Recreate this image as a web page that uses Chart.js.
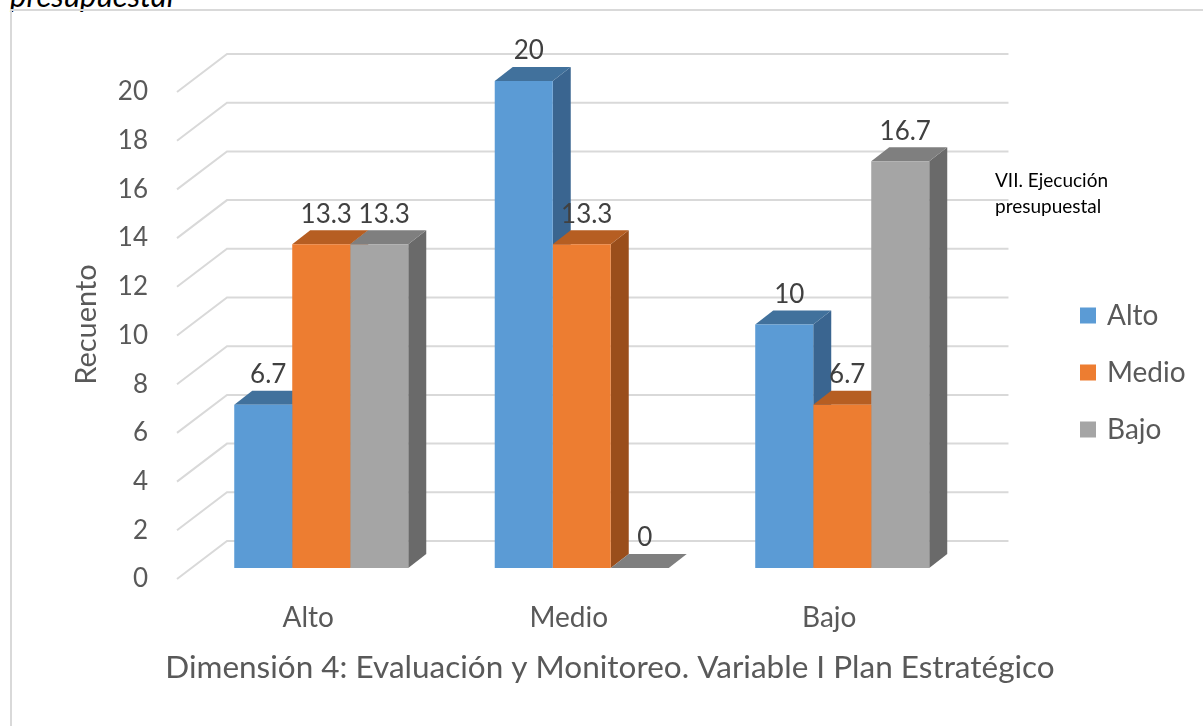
<!DOCTYPE html>
<html>
<head>
<meta charset="utf-8">
<script src="https://cdn.jsdelivr.net/npm/chart.js@4.4.1/dist/chart.umd.min.js"></script>
<style>
  html, body { margin: 0; padding: 0; background: #ffffff; }
  #page { position: relative; width: 1203px; height: 726px; overflow: hidden; background: #ffffff; }
  #frame { position: absolute; left: 10px; top: 9px; right: -10px; bottom: -10px;
           border-left: 2px solid #d9d9d9; border-top: 2px solid #d9d9d9; }
  #caption { position: absolute; left: 10px; top: -20px; font: italic 31px/31px Lato, "Open Sans", sans-serif;
             color: #000000; white-space: nowrap; }
  canvas { position: absolute; left: 0; top: 0; }
</style>
</head>
<body>
<div id="page">
  <div id="caption">presupuestal</div>
  <div id="frame"></div>
  <canvas id="chart" width="1203" height="726"></canvas>
</div>
<script>
// ---- data ----
const categories = ['Alto', 'Medio', 'Bajo'];
const seriesNames = ['Alto', 'Medio', 'Bajo'];
const serieAlto = [6.7, 20, 10];
const serieMedio = [13.3, 13.3, 6.7];
const serieBajo = [13.3, 0, 16.7];
const yTicks = [0, 2, 4, 6, 8, 10, 12, 14, 16, 18, 20];
const chartTitle = 'Dimensión 4: Evaluación y Monitoreo. Variable I Plan Estratégico';
const axisTitle = 'Recuento';
const legendTitle = ['VII. Ejecución', 'presupuestal'];

// ---- styling ----
const FONT = 'Lato, "Open Sans", sans-serif';
const palette = {
  front: ['#5B9BD5', '#ED7D31', '#A5A5A5'],
  top:   ['#41719C', '#B65E22', '#7F7F7F'],
  side:  ['#3A6590', '#9A4E1B', '#6A6A6A']
};
const BAR_DEPTH = { dx: 18, dy: -14 };    // top/side face offset of every column
const FLOOR_FRONT = { dx: -14, dy: 11 };  // front edge of the floor/left wall
const BACK_WALL = { dx: 36, dy: -27 };    // back wall plane

const seriesValues = [serieAlto, serieMedio, serieBajo];
const datasets = seriesNames.map((name, i) => ({
  label: name,
  data: seriesValues[i].map((v, k) => ({ x: k, y: v })),
  backgroundColor: palette.front[i],
  borderWidth: 0
}));

function fillPoly(ctx, pts) {
  ctx.beginPath();
  ctx.moveTo(pts[0][0], pts[0][1]);
  for (let k = 1; k < pts.length; k++) ctx.lineTo(pts[k][0], pts[k][1]);
  ctx.closePath();
  ctx.fill();
}

// Walls, gridlines and the 3D faces of the columns
const columns3d = {
  id: 'columns3d',
  beforeDatasetsDraw(chart) {
    const { ctx, scales: { x, y } } = chart;
    const left = x.getPixelForValue(-0.5);
    const right = x.getPixelForValue(categories.length - 0.5);
    ctx.save();
    ctx.strokeStyle = '#d9d9d9';
    ctx.lineWidth = 2;
    y.ticks.forEach(t => {
      const py = y.getPixelForValue(t.value);
      ctx.beginPath();
      ctx.moveTo(left + FLOOR_FRONT.dx, py + FLOOR_FRONT.dy);
      ctx.lineTo(left + BACK_WALL.dx, py + BACK_WALL.dy);
      ctx.lineTo(right + BACK_WALL.dx, py + BACK_WALL.dy);
      ctx.stroke();
    });

    const bars = [];
    chart.data.datasets.forEach((ds, i) => {
      chart.getDatasetMeta(i).data.forEach(el => bars.push({ el, i }));
    });
    bars.sort((a, b) => a.el.x - b.el.x);
    const { dx, dy } = BAR_DEPTH;
    bars.forEach(({ el, i }) => {
      const { x: cx, y: top, base, width } = el.getProps(['x', 'y', 'base', 'width'], true);
      const l = cx - width / 2, r = cx + width / 2;
      ctx.fillStyle = palette.side[i];
      fillPoly(ctx, [[r, top], [r + dx, top + dy], [r + dx, base + dy], [r, base]]);
      ctx.fillStyle = palette.top[i];
      fillPoly(ctx, [[l, top], [r, top], [r + dx, top + dy], [l + dx, top + dy]]);
    });
    ctx.restore();
  },
  afterDatasetsDraw(chart) {
    const { ctx } = chart;
    ctx.save();
    ctx.font = '26px ' + FONT;
    ctx.fillStyle = '#404040';
    ctx.textAlign = 'center';
    ctx.textBaseline = 'middle';
    chart.data.datasets.forEach((ds, i) => {
      chart.getDatasetMeta(i).data.forEach((el, k) => {
        const v = seriesValues[i][k];
        ctx.fillText(String(v), el.x + 5, el.y - 30);
      });
    });
    ctx.restore();
  },
  afterDraw(chart) {
    const { ctx } = chart;
    ctx.save();
    // legend caption
    ctx.font = '19px ' + FONT;
    ctx.fillStyle = '#000000';
    ctx.textAlign = 'left';
    ctx.textBaseline = 'middle';
    legendTitle.forEach((line, k) => ctx.fillText(line, 995, 181 + k * 26));
    // legend entries
    ctx.font = '28px ' + FONT;
    chart.data.datasets.forEach((ds, i) => {
      const cy = 315.5 + i * 57;
      ctx.fillStyle = ds.backgroundColor;
      ctx.fillRect(1080, cy - 8, 16, 16);
      ctx.fillStyle = '#595959';
      ctx.fillText(ds.label, 1107, cy);
    });
    ctx.restore();
  }
};

new Chart(document.getElementById('chart'), {
  type: 'bar',
  data: { datasets },
  plugins: [columns3d],
  options: {
    responsive: false,
    animation: false,
    devicePixelRatio: 1,
    layout: { padding: { left: 69.6, right: 52.6, top: 81, bottom: 39.1 } },
    datasets: { bar: { categoryPercentage: 0.668, barPercentage: 1 } },
    plugins: {
      legend: { display: false },
      tooltip: { enabled: false },
      title: {
        display: true,
        position: 'bottom',
        text: chartTitle,
        color: '#595959',
        font: { family: FONT, size: 31.5, weight: 'normal' },
        padding: { top: 14.3, bottom: 0 }
      }
    },
    scales: {
      x: {
        type: 'linear',
        min: -0.5,
        max: 3.183,
        offset: false,
        grid: { display: false, drawTicks: false },
        border: { display: false },
        afterBuildTicks: s => { s.ticks = categories.map((_, k) => ({ value: k })); },
        afterFit: s => { s.height = 66.8; },
        ticks: {
          callback: v => categories[v],
          padding: 33.2,
          labelOffset: -13,
          autoSkip: false,
          maxRotation: 0,
          color: '#595959',
          font: { family: FONT, size: 28 }
        }
      },
      y: {
        min: 0,
        max: 20,
        grid: { display: false, drawTicks: false },
        border: { display: false },
        afterBuildTicks: s => { s.ticks = yTicks.map(v => ({ value: v })); },
        afterFit: s => { s.width = 121.4; },
        ticks: {
          padding: 43,
          labelOffset: 11,
          color: '#595959',
          font: { family: FONT, size: 26 }
        },
        title: {
          display: true,
          text: axisTitle,
          color: '#595959',
          font: { family: FONT, size: 29 },
          padding: { top: 0, bottom: 0 }
        }
      }
    }
  }
});
</script>
</body>
</html>
